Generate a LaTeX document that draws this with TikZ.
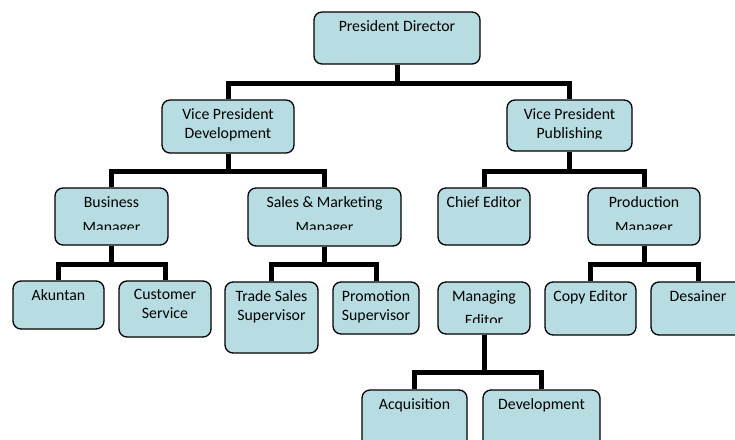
\documentclass[tikz,border=0pt]{standalone}
\usepackage{fontspec}
\setmainfont{Carlito}
\definecolor{boxfill}{RGB}{183,221,226}

\begin{document}
\begin{tikzpicture}[x=1pt, y=-1pt,
    box/.style={draw, fill=boxfill, line width=1.3pt, rounded corners=8pt, inner sep=0pt},
    txt/.style={anchor=north, align=center, inner sep=0pt, yshift=-9pt, font=\fontsize{15.8}{19}\selectfont},
    link/.style={line width=5pt, line join=miter}]
    \useasboundingbox (0,0) rectangle (735,439);
    \clip (0,0) rectangle (735,439);

    % boxes
    \node[box, minimum width=166pt, minimum height=52pt] (pd) at (397,38) {};
    \node[box, minimum width=132pt, minimum height=53pt] (vpd) at (228,126.5) {};
    \node[box, minimum width=125pt, minimum height=51pt] (vpp) at (569.5,125.5) {};
    \node[box, minimum width=113pt, minimum height=57pt] (bm) at (111.5,216.5) {};
    \node[box, minimum width=153pt, minimum height=58pt] (smm) at (324.5,217) {};
    \node[box, minimum width=92pt, minimum height=57pt] (ce) at (484,216.5) {};
    \node[box, minimum width=112pt, minimum height=57pt] (prm) at (644,216.5) {};
    \node[box, minimum width=91pt, minimum height=48pt] (ak) at (58.5,305) {};
    \node[box, minimum width=92pt, minimum height=56pt] (cs) at (165,309) {};
    \node[box, minimum width=93pt, minimum height=71pt] (tss) at (271.5,317.5) {};
    \node[box, minimum width=86pt, minimum height=52pt] (ps) at (376,308) {};
    \node[box, minimum width=92pt, minimum height=52pt] (me) at (484,308) {};
    \node[box, minimum width=91pt, minimum height=53pt] (cpe) at (590.5,308.5) {};
    \node[box, minimum width=94pt, minimum height=53pt] (ds) at (698,308.5) {};
    \node[box, minimum width=105pt, minimum height=60pt] (acq) at (414.5,420) {};
    \node[box, minimum width=117pt, minimum height=60pt] (dev) at (541.5,420) {};

    % texts
    \node[txt] (pdt) at (pd.north) {President Director};
    \node[txt] (vpdt) at (vpd.north) {Vice President\\Development};
    \begin{scope}
        \clip (500,90) rectangle (640,138.5);
        \node[txt] (vppt) at (vpp.north) {Vice President\\Publishing};
    \end{scope}
    \begin{scope}
        \clip (40,180) rectangle (700,229);
        \node[txt] (bmt) at (bm.north) {Business\\[6pt]Manager};
        \node[txt] (smmt) at (smm.north) {Sales \& Marketing\\[6pt]Manager};
        \node[txt] (prmt) at (prm.north) {Production\\[6pt]Manager};
    \end{scope}
    \node[txt] (cet) at (ce.north) {Chief Editor};
    \node[txt] (akt) at (ak.north) {Akuntan};
    \node[txt] (cst) at (cs.north) {Customer\\Service};
    \node[txt] (tsst) at (tss.north) {Trade Sales\\Supervisor};
    \node[txt] (pst) at (ps.north) {Promotion\\Supervisor};
    \begin{scope}
        \clip (430,270) rectangle (540,322);
        \node[txt] (met) at (me.north) {Managing\\[5pt]Editor};
    \end{scope}
    \node[txt] (cpet) at (cpe.north) {Copy Editor};
    \node[txt] (dst) at (ds.north) {Desainer};
    \node[txt] (acqt) at (acq.north) {Acquisition};
    \node[txt] (devt) at (dev.north) {Development};

    % connectors
    \coordinate (lvl1) at (0,83);
    \coordinate (lvl2) at (0,171);
    \coordinate (lvl3) at (0,264);
    \coordinate (lvl4) at (0,372);
    \draw[link] (pd.south) -- (pd.south |- lvl1);
    \draw[link] (vpd.north) -- (vpd.north |- lvl1) -- (vpp.north |- lvl1) -- (vpp.north);
    \draw[link] (vpd.south) -- (vpd.south |- lvl2);
    \draw[link] (bm.north) -- (bm.north |- lvl2) -- (smm.north |- lvl2) -- (smm.north);
    \draw[link] (vpp.south) -- (vpp.south |- lvl2);
    \draw[link] (ce.north) -- (ce.north |- lvl2) -- (prm.north |- lvl2) -- (prm.north);
    \draw[link] (bm.south) -- (bm.south |- lvl3);
    \draw[link] (ak.north) -- (ak.north |- lvl3) -- (cs.north |- lvl3) -- (cs.north);
    \draw[link] (smm.south) -- (smm.south |- lvl3);
    \draw[link] (tss.north) -- (tss.north |- lvl3) -- (ps.north |- lvl3) -- (ps.north);
    \draw[link] (prm.south) -- (prm.south |- lvl3);
    \draw[link] (cpe.north) -- (cpe.north |- lvl3) -- (ds.north |- lvl3) -- (ds.north);
    \draw[link] (me.south) -- (me.south |- lvl4);
    \draw[link] (acq.north) -- (acq.north |- lvl4) -- (dev.north |- lvl4) -- (dev.north);
\end{tikzpicture}
\end{document}
